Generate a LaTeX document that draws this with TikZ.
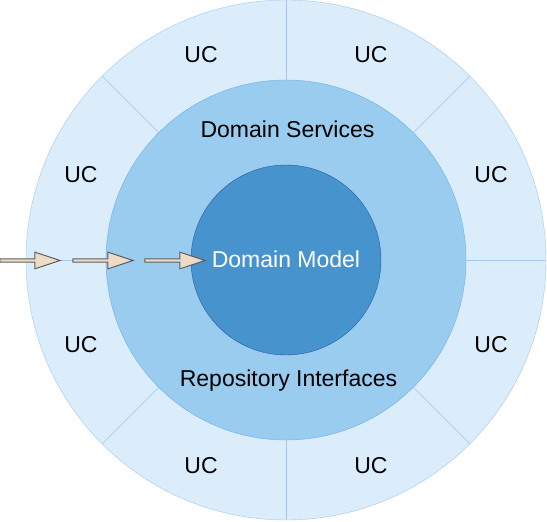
\documentclass[tikz,border=0pt]{standalone}
\usepackage{fontspec}
\setmainfont{Liberation Sans}
\usepackage{tikz}
\usetikzlibrary{calc}
\definecolor{ucfill}{RGB}{219,237,251}
\definecolor{ucline}{RGB}{160,198,236}
\definecolor{dsfill}{RGB}{153,204,239}
\definecolor{dsline}{RGB}{110,176,230}
\definecolor{dmfill}{RGB}{71,147,205}
\definecolor{dmline}{RGB}{45,95,160}
\definecolor{arrfill}{RGB}{236,219,197}
\definecolor{arrline}{RGB}{95,95,95}

\begin{document}
\begin{tikzpicture}[x=1pt,y=1pt,
  lbl/.style={font=\fontsize{23}{27}\selectfont,inner sep=0pt},
  flowarrow/.style={fill=arrfill,draw=arrline,line width=1pt,line join=miter}]
\useasboundingbox (-286,-262) rectangle (261,260);
% outer ring: use cases
\draw[fill=ucfill,draw=ucline] (0,0) circle (260);
\foreach \a in {0,45,...,315} {\draw[ucline] (\a:180) -- (\a:260);}
\foreach \a [count=\i] in {22.5,67.5,...,337.5} {\node[lbl] (uc\i) at (\a:222) {UC};}
% middle ring: services and repositories
\draw[fill=dsfill,draw=dsline] (0,0) circle (180);
\node[lbl,anchor=base] (ds) at (1.5,122) {Domain Services};
\node[lbl,anchor=base] (ri) at (2.5,-126.5) {Repository Interfaces};
% core
\draw[fill=dmfill,draw=dmline] (0,0) circle (95);
\node[lbl,anchor=base,text=white] (dm) at (0,-8) {Domain Model};
% incoming calls from the left
\foreach \xa in {-286,-213,-141} {
  \draw[flowarrow] (\xa,1.2) -- ++(35,0) -- ++(0,6.6) -- ++(25,-8.3) -- ++(-25,-8.3) -- ++(0,6.6) -- ++(-35,0) -- cycle;}
\end{tikzpicture}
\end{document}
